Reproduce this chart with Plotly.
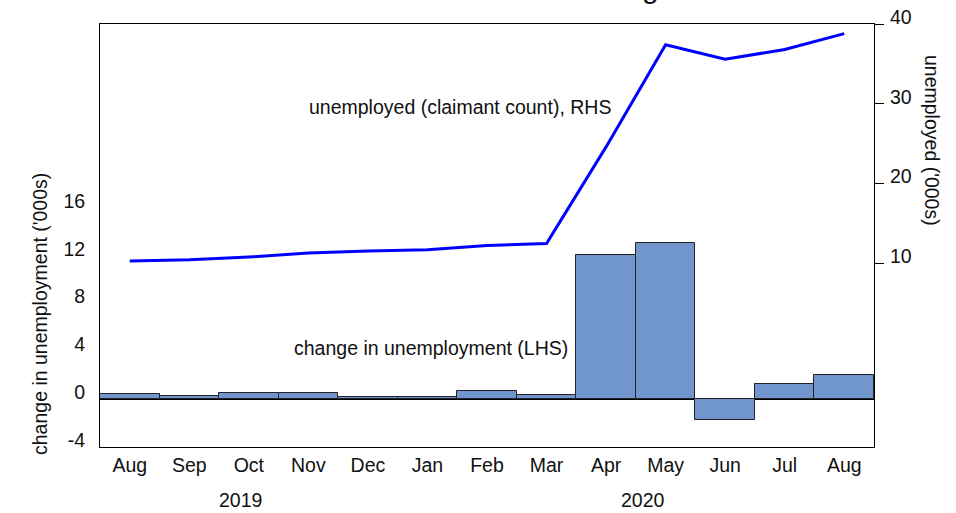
import plotly.graph_objects as go

months = ["Aug", "Sep", "Oct", "Nov", "Dec", "Jan", "Feb", "Mar", "Apr", "May", "Jun", "Jul", "Aug"]
years = ["2019", "2020"]
change_in_unemployment = [0.42, 0.28, 0.5, 0.5, 0.17, 0.17, 0.67, 0.36, 12.05, 13.05, -1.7, 1.26, 2.05]
unemployed = [10.3, 10.46, 10.8, 11.3, 11.55, 11.7, 12.25, 12.5, 24.6, 37.4, 35.6, 36.8, 38.8]
left_ticks = [-4, 0, 4, 8, 12, 16]
left_tick_labels = ["-4", "0", "4", "8", "12", "16"]
right_ticks = [10, 20, 30, 40]

x_idx = list(range(len(months)))
FONT = "Liberation Sans, Arial, sans-serif"
FS = 19.5

fig = go.Figure()
fig.add_trace(go.Bar(
    x=x_idx, y=change_in_unemployment, width=1,
    marker=dict(color="#7195CD", line=dict(color="#222222", width=1)),
    yaxis="y", showlegend=False,
))
fig.add_trace(go.Scatter(
    x=x_idx, y=unemployed, mode="lines",
    line=dict(color="#0000FF", width=3),
    yaxis="y2", showlegend=False,
))

fig.update_layout(
    width=956, height=513,
    margin=dict(l=100, r=82, t=24, b=66, autoexpand=False),
    paper_bgcolor="white", plot_bgcolor="white",
    font=dict(family=FONT, size=FS, color="#111111"),
    bargap=0,
    xaxis=dict(
        range=[-0.5, 12.5], tickmode="array", tickvals=x_idx, ticktext=months,
        showgrid=False, zeroline=False, showline=True, linecolor="black", linewidth=1,
        mirror=True, ticks="", ticklabelstandoff=1, automargin=False,
    ),
    yaxis=dict(
        range=[-4, 31.4], tickmode="array", tickvals=left_ticks, ticktext=left_tick_labels,
        showgrid=False, zeroline=True, zerolinecolor="black", zerolinewidth=1,
        showline=True, linecolor="black", linewidth=1, ticks="",
        ticklabelshift=-7, ticklabelstandoff=10, automargin=False,
    ),
    yaxis2=dict(
        range=[-13, 40], tickmode="array", tickvals=right_ticks,
        overlaying="y", side="right", showgrid=False, zeroline=False,
        showline=True, linecolor="black", linewidth=1,
        ticks="outside", ticklen=9, tickcolor="black",
        ticklabelshift=-7, ticklabelstandoff=2, automargin=False,
    ),
)

annotations = [
    dict(text="unemployed (claimant count), RHS", x=613, y=107, xanchor="right"),
    dict(text="change in unemployment (LHS)", x=570, y=348, xanchor="right"),
    dict(text=years[0], x=240, y=500, xanchor="center"),
    dict(text=years[1], x=643, y=500, xanchor="center"),
]
for a in annotations:
    fig.add_annotation(
        text=a["text"], xref="paper", yref="paper",
        x=(a["x"] - 100) / 774, y=(447 - a["y"]) / 423,
        xanchor=a["xanchor"], yanchor="middle", showarrow=False,
        font=dict(family=FONT, size=FS, color="#111111"),
    )

fig.add_annotation(text="change in unemployment ('000s)", xref="paper", yref="paper",
                   x=(40 - 100) / 774, y=(447 - 314) / 423, textangle=-90,
                   xanchor="center", yanchor="middle", showarrow=False,
                   font=dict(family=FONT, size=FS, color="#111111"))
fig.add_annotation(text="unemployed ('000s)", xref="paper", yref="paper",
                   x=(932 - 100) / 774, y=(447 - 140) / 423, textangle=90,
                   xanchor="center", yanchor="middle", showarrow=False,
                   font=dict(family=FONT, size=FS, color="#111111"))
# fragment of the cut-off title at the top edge
fig.add_annotation(text="g", xref="paper", yref="paper",
                   x=(650 - 100) / 774, y=1 + (24 - 6) / 423,
                   xanchor="center", yanchor="bottom", showarrow=False,
                   font=dict(family=FONT, size=30, color="#111111"))

fig.write_html("out.html", config={"displayModeBar": False},
               post_script="document.body.style.margin='0px';")
